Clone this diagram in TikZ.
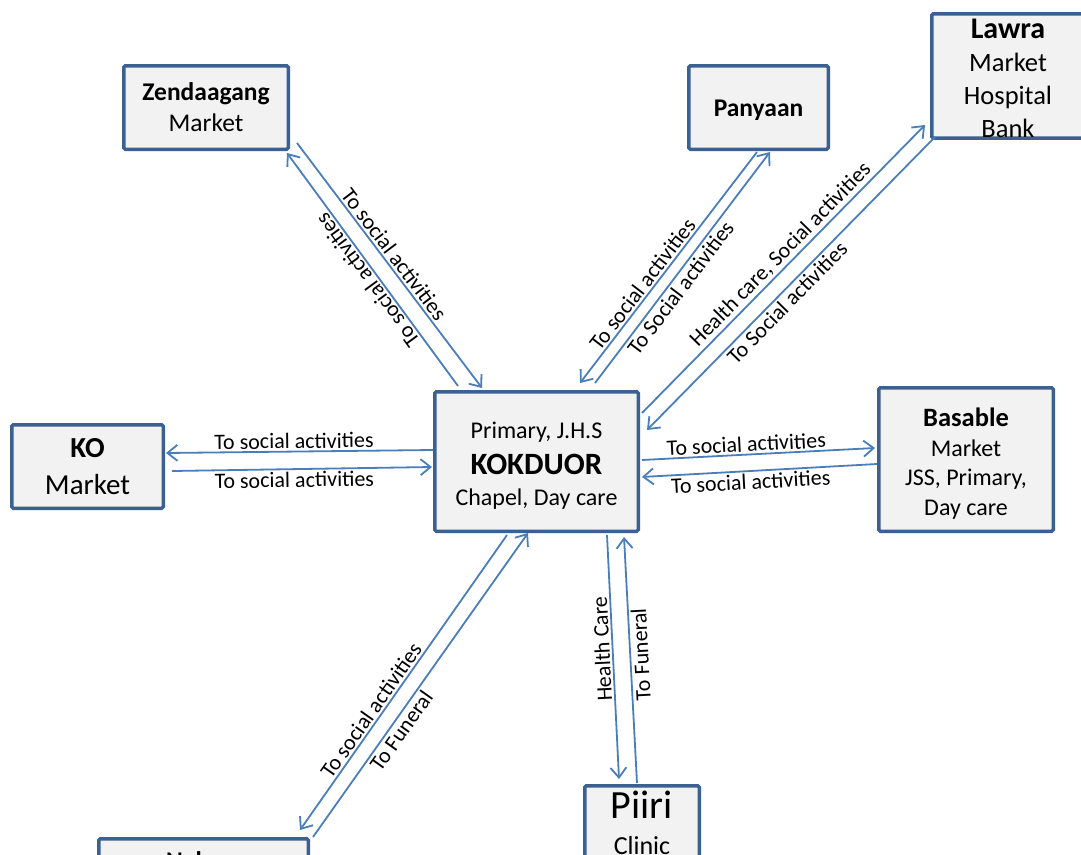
\documentclass[tikz,border=0pt]{standalone}
\usepackage{fontspec}
\setmainfont{Carlito}
\usetikzlibrary{arrows.meta,calc}
\definecolor{boxline}{HTML}{3B6192}
\definecolor{boxfill}{HTML}{F2F2F2}
\definecolor{conn}{HTML}{4A7EBB}
\newcommand{\fsz}[2]{\fontsize{#1}{#2}\selectfont}
\newcommand{\topstrut}[1]{\rule{0pt}{#1}}
\begin{document}
\begin{tikzpicture}[x=1pt,y=-1pt,
  place/.style={draw=boxline, fill=boxfill, line width=3.5pt, rounded corners=1.5pt, align=center, inner sep=0pt},
  link/.style={draw=conn, line width=1.8pt, -{Straight Barb[length=10pt,width=16pt]}},
  linkback/.style={draw=conn, line width=1.8pt, {Straight Barb[length=10pt,width=16pt]}-},
  lab/.style={font=\fsz{22}{26}, sloped, inner sep=2pt},
  plain/.style={inner sep=0pt}]
\useasboundingbox (0,0) rectangle (1081,854);

% places
\node[place, minimum width=164.5pt, minimum height=83.5pt, font=\fsz{25.5}{31}] (zen) at (206,107.5) {\textbf{Zendaagang}\\Market};
\node[place, minimum width=139.5pt, minimum height=83.5pt, font=\fsz{25.5}{30}\bfseries] (pan) at (758.5,107.5) {\topstrut{22.5pt}Panyaan};
\node[place, minimum width=152.5pt, minimum height=120.5pt, font=\fsz{26.5}{33}] (law) at (1008,76) {\topstrut{25pt}{\bfseries\fsz{30}{33}Lawra}\\Market\\Hospital\\Bank};
\node[place, minimum width=151.5pt, minimum height=83.5pt, font=\fsz{29}{37}] (ko) at (87.5,466.5) {\textbf{KO}\\Market};
\node[place, minimum width=203.5pt, minimum height=139.5pt, font=\fsz{24}{32}] (kok) at (536.5,461.5) {\topstrut{24pt}Primary, J.H.S\\[4pt]{\bfseries\fsz{31}{32}KOKDUOR}\\[-1pt]Chapel, Day care};
\node[place, minimum width=174.5pt, minimum height=143.5pt, font=\fsz{24}{29.5}] (bas) at (966,459.5) {\topstrut{27pt}{\bfseries\fsz{26.5}{29.5}Basable}\\Market\\JSS, Primary,\\Day care};
\node[place, minimum width=209.5pt, minimum height=100pt] (nab) at (203.5,888.75) {};
\node[plain, font=\fsz{25.5}{30}\bfseries, anchor=base west] (nabt) at (166,869) {Nab};
\node[place, minimum width=114.5pt, minimum height=100pt] (pii) at (642,835.75) {};
\node[plain, font=\fsz{40}{46}, anchor=base] (piit) at (642,818.5) {Piiri};
\node[plain, font=\fsz{26}{30}, anchor=base] (piic) at (642,854.5) {Clinic};

% connectors
\draw[link] ($(zen)+(91,35.5)$) -- node[lab,above,pos=0.48]{To social activities} ($(kok)+(-54.5,-73.5)$);
\draw[link] ($(kok)+(-78.5,-75.5)$) -- node[lab,above,pos=0.48,allow upside down]{To social activities} ($(zen)+(81,45.5)$);
\draw[link] ($(pan)+(-1.5,44.5)$) -- node[lab,above,pos=0.6]{To social activities} ($(kok)+(43.5,-78.5)$);
\draw[link] ($(kok)+(58.5,-78.5)$) -- node[lab,below,pos=0.44]{To Social activities} ($(pan)+(11.5,44.5)$);
\draw[link] ($(kok)+(105.5,-48.5)$) -- node[lab,above,pos=0.52]{Health care, Social activities} ($(law)+(-83,49)$);
\draw[link] ($(law)+(-73,61)$) -- node[lab,below,pos=0.54]{To Social activities} ($(kok)+(110.5,-31.5)$);
\draw[link] ($(kok)+(-103.5,-11.5)$) -- node[lab,above,pos=0.52]{To social activities} ($(ko)+(78.5,-13.5)$);
\draw[link] ($(ko)+(84.5,4.5)$) -- node[lab,below,pos=0.47]{To social activities} ($(kok)+(-104.5,5.5)$);
\draw[link] ($(kok)+(105.5,-1.5)$) -- node[lab,above,pos=0.45]{To social activities} ($(bas)+(-91,-11.5)$);
\draw[link] ($(bas)+(-89,4.5)$) -- node[lab,below,pos=0.54]{To social activities} ($(kok)+(105.5,15.5)$);
\draw[link] ($(kok)+(-29.5,73.5)$) -- node[lab,above,pos=0.615]{To social activities} ($(nab)+(96.5,-58.75)$);
\draw[link] ($(nab)+(109.5,-51.75)$) -- node[lab,below,pos=0.37]{To Funeral} ($(kok)+(-8.5,71.5)$);
\draw[linkback] ($(pii)+(-23,-56.75)$) -- node[lab,above,pos=0.535,allow upside down]{Health Care} ($(kok)+(70.5,73.5)$);
\draw[link] ($(pii)+(-5,-52.75)$) -- node[lab,below,pos=0.52,allow upside down]{To Funeral} ($(kok)+(87.5,75.5)$);
\end{tikzpicture}
\end{document}
